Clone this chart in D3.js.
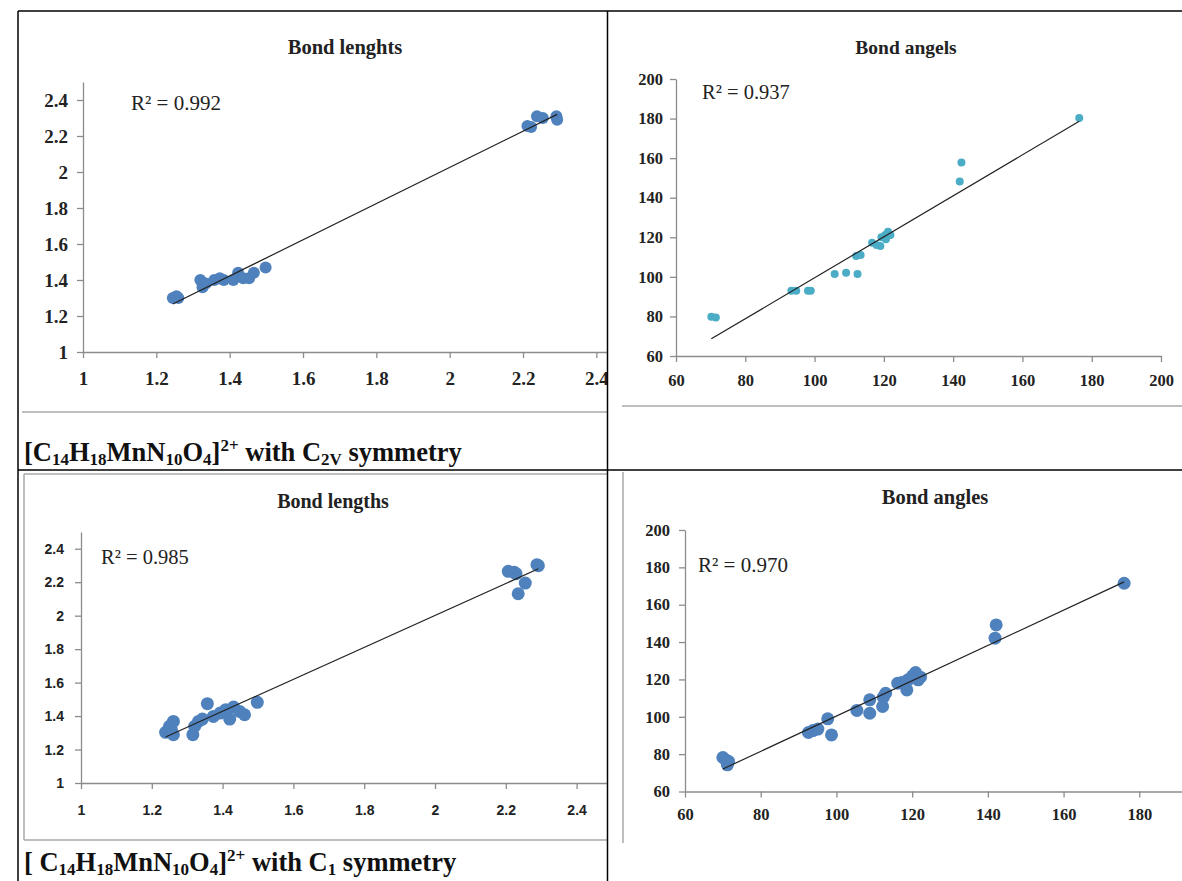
<!DOCTYPE html>
<html>
<head>
<meta charset="utf-8">
<script src="https://cdn.jsdelivr.net/npm/d3@7"></script>
<style>
  body { margin: 0; background: #fff; }
  svg { display: block; }
</style>
</head>
<body>
<svg id="page" width="1182" height="881"></svg>
<script>
const c2vLengths = [
  [1.245, 1.30], [1.255, 1.31], [1.26, 1.30],
  [1.32, 1.40], [1.326, 1.36], [1.335, 1.38], [1.358, 1.40], [1.373, 1.41],
  [1.384, 1.40], [1.41, 1.40], [1.423, 1.44], [1.437, 1.41], [1.453, 1.41],
  [1.466, 1.44], [1.498, 1.47],
  [2.212, 2.256], [2.222, 2.25], [2.238, 2.31], [2.254, 2.30], [2.291, 2.31], [2.293, 2.29],
];
const c2vAngles = [
  [70.2, 79.8], [71.5, 79.4],
  [93.3, 93.0], [94.7, 93.0], [98.1, 93.0], [98.9, 93.0],
  [105.8, 101.4], [109.1, 102.1], [112.4, 101.4],
  [112.0, 110.5], [113.3, 111.0],
  [116.6, 117.3], [117.9, 116.1], [119.0, 115.6], [119.3, 120.0], [120.4, 121.2],
  [121.2, 122.8], [121.9, 121.2], [120.6, 119.0],
  [141.9, 148.2], [142.4, 157.8],
  [176.4, 180.3],
];
const c1Lengths = [
  [1.239, 1.303], [1.25, 1.339], [1.261, 1.368], [1.261, 1.289], [1.255, 1.32],
  [1.316, 1.289], [1.321, 1.339], [1.332, 1.368], [1.343, 1.382],
  [1.357, 1.474],
  [1.374, 1.398], [1.393, 1.418], [1.409, 1.438], [1.420, 1.382], [1.431, 1.454],
  [1.448, 1.428], [1.462, 1.408], [1.498, 1.482],
  [2.207, 2.265], [2.224, 2.259], [2.229, 2.251], [2.235, 2.131], [2.255, 2.195],
  [2.288, 2.305], [2.292, 2.299],
];
const c1Angles = [
  [70.0, 78.2], [70.8, 76.9], [71.2, 74.3], [71.5, 76.1],
  [92.6, 91.6], [93.8, 92.6], [95.1, 93.4], [97.7, 98.9], [98.7, 90.3],
  [105.4, 103.4], [108.8, 101.9], [108.8, 109.1], [112.2, 105.5], [112.4, 110.5], [113.0, 112.6],
  [116.2, 118.0], [117.3, 118.3], [118.6, 114.4], [118.9, 119.8], [120.1, 121.9],
  [120.9, 123.7], [122.2, 121.2], [121.6, 119.8],
  [141.9, 142.1], [142.2, 149.2],
  [176.0, 171.5],
];

const lengthTicks = [1, 1.2, 1.4, 1.6, 1.8, 2, 2.2, 2.4];
const angleTicks = [60, 80, 100, 120, 140, 160, 180, 200];
const bottomAngleTicksX = [60, 80, 100, 120, 140, 160, 180];

const titles = ['Bond lenghts', 'Bond angels', 'Bond lengths', 'Bond angles'];
const r2Labels = ['R² = 0.992', 'R² = 0.937', 'R² = 0.985', 'R² = 0.970'];

const svg = d3.select('#page');
const defs = svg.append('defs');
const serif = '"Liberation Serif", "Times New Roman", serif';
const sans = '"Liberation Sans", Arial, sans-serif';
const axisGrey = '#8c8c8c';

// least squares line through the points
const fit = pts => {
  const mx = d3.mean(pts, d => d[0]), my = d3.mean(pts, d => d[1]);
  const sxy = d3.sum(pts, d => (d[0] - mx) * (d[1] - my));
  const sxx = d3.sum(pts, d => (d[0] - mx) ** 2);
  const b = sxy / sxx, a = my - b * mx;
  const [x0, x1] = d3.extent(pts, d => d[0]);
  return [[x0, a + b * x0], [x1, a + b * x1]];
};

const fmt = d => String(+d.toFixed(1));

// chart frames (light grey)
const frame = (x1, y1, x2, y2) => svg.append('line')
  .attr('x1', x1).attr('y1', y1).attr('x2', x2).attr('y2', y2)
  .attr('stroke', '#a8a8a8').attr('stroke-width', 1.5);
frame(22, 412, 607, 412);
frame(622, 406, 1182, 406);
frame(24, 474, 607, 474);
frame(24, 474, 24, 840);
frame(24, 840, 607, 840);
frame(623, 472, 623, 843);

const panel = p => {
  const g = svg.append('g');
  if (p.clip) {
    const id = 'clip-' + p.id;
    defs.append('clipPath').attr('id', id)
      .append('rect')
      .attr('x', p.clip[0]).attr('y', p.clip[1])
      .attr('width', p.clip[2]).attr('height', p.clip[3]);
    g.attr('clip-path', `url(#${id})`);
  }
  const x = d3.scaleLinear().domain(p.xDomain).range(p.xRange);
  const y = d3.scaleLinear().domain(p.yDomain).range(p.yRange);

  const xAxis = g.append('g')
    .attr('transform', `translate(0,${p.yRange[0]})`)
    .call(d3.axisBottom(x).tickValues(p.xTicks).tickFormat(p.tickFmt)
      .tickSizeInner(6).tickSizeOuter(0).tickPadding(p.xPad));
  const yAxis = g.append('g')
    .attr('transform', `translate(${p.xRange[0]},0)`)
    .call(d3.axisLeft(y).tickValues(p.yTicks).tickFormat(p.tickFmt)
      .tickSizeInner(6).tickSizeOuter(0).tickPadding(p.yPad));
  [xAxis, yAxis].forEach(ax => {
    ax.select('.domain').attr('stroke', axisGrey).attr('stroke-width', 1.3);
    ax.selectAll('.tick line').attr('stroke', axisGrey).attr('stroke-width', 1.3);
    ax.selectAll('.tick text')
      .attr('fill', '#222')
      .style('font-family', p.tickFont)
      .style('font-size', p.tickSize + 'px')
      .style('font-weight', 'bold');
  });

  g.selectAll('circle.pt').data(p.data).join('circle')
    .attr('class', 'pt')
    .attr('cx', d => x(d[0]))
    .attr('cy', d => y(d[1]))
    .attr('r', p.r)
    .attr('fill', p.color);

  g.append('path')
    .datum(fit(p.data))
    .attr('d', d3.line().x(d => x(d[0])).y(d => y(d[1])))
    .attr('stroke', '#222')
    .attr('stroke-width', 1.2)
    .attr('fill', 'none');

  g.append('text')
    .attr('x', p.titlePos[0]).attr('y', p.titlePos[1])
    .attr('text-anchor', 'middle')
    .style('font-family', serif)
    .style('font-weight', 'bold')
    .style('font-size', p.titleSize + 'px')
    .attr('fill', '#222')
    .text(p.title);

  g.append('text')
    .attr('x', p.r2Pos[0]).attr('y', p.r2Pos[1])
    .style('font-family', serif)
    .style('font-size', p.r2Size + 'px')
    .attr('fill', '#222')
    .text(p.r2);
};

panel({
  id: 'tl', clip: [19, 12, 588, 458],
  data: c2vLengths, color: '#4F81BD', r: 6,
  xDomain: [1, 2.45], xRange: [83, 614.7],
  yDomain: [1, 2.5], yRange: [352, 82],
  xTicks: lengthTicks, yTicks: lengthTicks, tickFmt: fmt,
  tickFont: serif, tickSize: 19, xPad: 14, yPad: 9,
  title: titles[0], titleSize: 20.5, titlePos: [345, 54],
  r2: r2Labels[0], r2Size: 21, r2Pos: [131, 110],
});

panel({
  id: 'tr',
  data: c2vAngles, color: '#4BACC6', r: 4,
  xDomain: [60, 200], xRange: [676, 1161],
  yDomain: [60, 200], yRange: [356, 79],
  xTicks: angleTicks, yTicks: angleTicks, tickFmt: d => d,
  tickFont: serif, tickSize: 16.5, xPad: 12, yPad: 7,
  title: titles[1], titleSize: 19.5, titlePos: [906, 54],
  r2: r2Labels[1], r2Size: 20.5, r2Pos: [702, 99],
});

panel({
  id: 'bl', clip: [19, 471, 588, 410],
  data: c1Lengths, color: '#4F81BD', r: 6.5,
  xDomain: [1, 2.5], xRange: [81, 612],
  yDomain: [1, 2.5], yRange: [783, 532],
  xTicks: lengthTicks, yTicks: lengthTicks, tickFmt: fmt,
  tickFont: sans, tickSize: 14, xPad: 16, yPad: 11,
  title: titles[2], titleSize: 20, titlePos: [333, 508],
  r2: r2Labels[2], r2Size: 20.5, r2Pos: [101, 564],
});

panel({
  id: 'br',
  data: c1Angles, color: '#4F81BD', r: 6.5,
  xDomain: [60, 200], xRange: [685, 1215],
  yDomain: [60, 200], yRange: [791.5, 530],
  xTicks: bottomAngleTicksX, yTicks: angleTicks, tickFmt: d => d,
  tickFont: serif, tickSize: 16.5, xPad: 11, yPad: 9,
  title: titles[3], titleSize: 20.5, titlePos: [935, 504],
  r2: r2Labels[3], r2Size: 21, r2Pos: [698, 572],
});

// captions with sub- and superscripts
const caption = (x, y, parts) => {
  const t = svg.append('text')
    .attr('x', x).attr('y', y)
    .style('font-family', serif)
    .style('font-weight', 'bold')
    .style('font-size', '26.5px')
    .attr('fill', '#111');
  let shift = 0;
  parts.forEach(([str, kind]) => {
    const want = kind === 'sub' ? 4 : kind === 'sup' ? -10 : 0;
    t.append('tspan')
      .attr('dy', want - shift)
      .style('font-size', kind ? '17px' : '26.5px')
      .text(str);
    shift = want;
  });
};
const formula = [['[C'], ['14', 'sub'], ['H'], ['18', 'sub'], ['MnN'], ['10', 'sub'], ['O'], ['4', 'sub'], [']'], ['2+', 'sup']];
caption(24, 461, [...formula, [' with C'], ['2V', 'sub'], [' symmetry']]);
caption(24, 871, [['[ C'], ...formula.slice(1), [' with C'], ['1', 'sub'], [' symmetry']]);

// table rules
const rule = (x1, y1, x2, y2) => svg.append('line')
  .attr('x1', x1).attr('y1', y1).attr('x2', x2).attr('y2', y2)
  .attr('stroke', '#000').attr('stroke-width', 1.5);
rule(18, 11, 1182, 11);
rule(18, 470, 1182, 470);
rule(18, 11, 18, 881);
rule(607.5, 11, 607.5, 881);
</script>
</body>
</html>
